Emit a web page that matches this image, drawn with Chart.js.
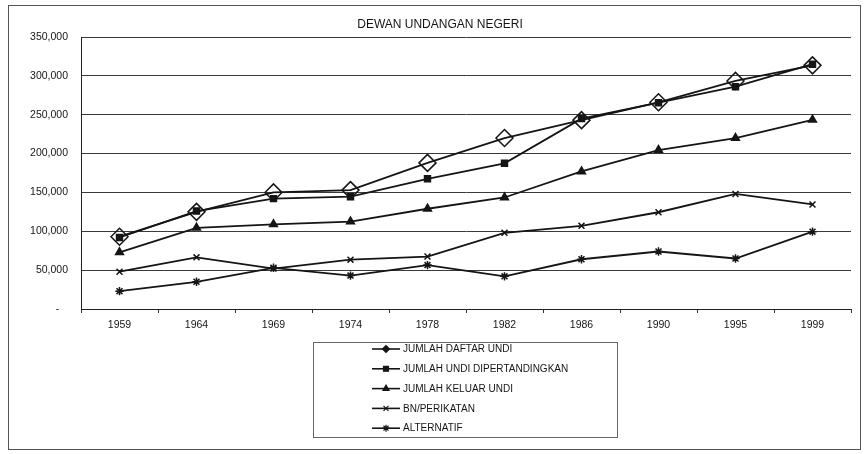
<!DOCTYPE html>
<html>
<head>
<meta charset="utf-8">
<script src="https://cdn.jsdelivr.net/npm/chart.js@4.4.0/dist/chart.umd.min.js"></script>
<style>
  html, body { margin: 0; padding: 0; background: #fff; }
</style>
</head>
<body>
<canvas id="chart" width="867" height="454"></canvas>
<script>
// Data
const years = ['1959', '1964', '1969', '1974', '1978', '1982', '1986', '1990', '1995', '1999'];
const daftarUndi = [93000, 125000, 150000, 153000, 188000, 220000, 243000, 266000, 293500, 313500];
const undiDipertandingkan = [92000, 126000, 142000, 144500, 167500, 187500, 245000, 265500, 286000, 315000];
const keluarUndi = [73000, 104500, 109000, 112500, 129000, 143500, 177000, 204500, 220000, 243500];
const bnPerikatan = [48000, 66500, 52000, 63500, 67500, 98000, 107000, 124500, 148000, 134500];
const alternatif = [23000, 35000, 53000, 43000, 56500, 42000, 64000, 74000, 65000, 99500];
const seriesNames = ['JUMLAH DAFTAR UNDI', 'JUMLAH UNDI DIPERTANDINGKAN', 'JUMLAH KELUAR UNDI', 'BN/PERIKATAN', 'ALTERNATIF'];
const yTicks = [0, 50000, 100000, 150000, 200000, 250000, 300000, 350000];

const FONT = "'Liberation Sans', Arial, sans-serif";
const INK = '#151515';

function fmt(v) {
    if (v === 0) return '-   ';
    return String(v).replace(/\B(?=(\d{3})+(?!\d))/g, ',');
}

function line(label, data, style, radius, order, fill) {
    return {
        label: label,
        data: data,
        borderColor: INK,
        borderWidth: 1.8,
        pointStyle: style,
        pointRadius: radius,
        pointHoverRadius: radius,
        pointBorderColor: INK,
        pointBorderWidth: 1.5,
        pointBackgroundColor: fill,
        tension: 0,
        order: order
    };
}

// frame, title and the boxed legend under the plot
const paperPlugin = {
    id: 'paper',
    afterDraw(chart) {
        const ctx = chart.ctx;
        ctx.save();
        ctx.strokeStyle = '#555';
        ctx.lineWidth = 1;
        ctx.strokeRect(8.5, 5.5, 852, 444);

        ctx.fillStyle = INK;
        ctx.font = '12px ' + FONT;
        ctx.textAlign = 'center';
        ctx.textBaseline = 'middle';
        ctx.fillText('DEWAN UNDANGAN NEGERI', 440, 25);

        ctx.strokeStyle = '#666';
        ctx.strokeRect(313.5, 342.5, 304, 95);

        const ds = chart.data.datasets;
        ctx.font = '10px ' + FONT;
        ctx.textAlign = 'left';
        ds.forEach((d, i) => {
            const y = 349 + i * 19.8;
            ctx.strokeStyle = INK;
            ctx.lineWidth = 1.6;
            ctx.beginPath();
            ctx.moveTo(372, y);
            ctx.lineTo(400, y);
            ctx.stroke();
            ctx.fillStyle = INK;
            ctx.lineWidth = 1.2;
            Chart.helpers.drawPoint(ctx, {
                pointStyle: d.pointStyle,
                radius: 3.5,
                rotation: 0,
                borderWidth: 1.2
            }, 386, y);
            ctx.fillStyle = INK;
            ctx.fillText(seriesNames[i], 403, y + 0.5);
        });
        ctx.restore();
    }
};

new Chart(document.getElementById('chart'), {
    type: 'line',
    data: {
        labels: years,
        datasets: [
            line(seriesNames[0], daftarUndi, 'rectRot', 8.5, 5, 'rgba(255,255,255,0)'),
            line(seriesNames[1], undiDipertandingkan, 'rect', 4.2, 4, INK),
            line(seriesNames[2], keluarUndi, 'triangle', 4.5, 3, INK),
            line(seriesNames[3], bnPerikatan, 'crossRot', 4.2, 2, INK),
            line(seriesNames[4], alternatif, 'star', 4.2, 1, INK)
        ]
    },
    options: {
        responsive: false,
        animation: false,
        layout: { padding: { left: 0, right: 16, top: 37, bottom: 125 } },
        plugins: {
            legend: { display: false },
            title: { display: false },
            tooltip: { enabled: false }
        },
        scales: {
            x: {
                type: 'category',
                offset: true,
                afterFit(scale) { scale.height = 20; },
                grid: {
                    display: true,
                    drawOnChartArea: false,
                    drawTicks: true,
                    tickLength: 4,
                    offset: true,
                    color: '#333'
                },
                border: { display: true, color: '#222', width: 1 },
                ticks: {
                    color: INK,
                    padding: 6,
                    maxRotation: 0,
                    font: { family: FONT, size: 10.5 }
                }
            },
            y: {
                min: 0,
                max: 350000,
                afterFit(scale) { scale.width = 81; },
                afterBuildTicks(scale) { scale.ticks = yTicks.map(v => ({ value: v })); },
                grid: { color: '#3a3a3a', lineWidth: 1, drawTicks: false },
                border: { display: true, color: '#222', width: 1 },
                ticks: {
                    color: INK,
                    padding: 13,
                    font: { family: FONT, size: 10.5 },
                    callback: v => fmt(v)
                }
            }
        }
    },
    plugins: [paperPlugin]
});
</script>
</body>
</html>
